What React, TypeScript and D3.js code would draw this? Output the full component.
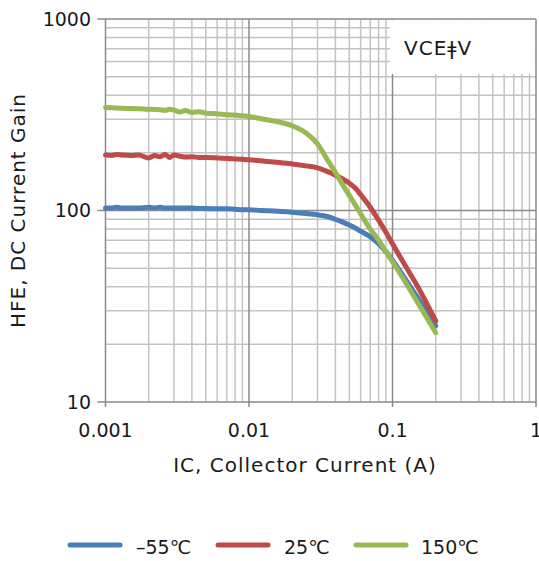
import * as d3 from "d3";

// collector current (A)
const IC = [
  0.001, 0.0011, 0.0012, 0.0013, 0.0015, 0.0017, 0.002, 0.0022, 0.0024, 0.0026,
  0.0028, 0.003, 0.0033, 0.0036, 0.004, 0.0045, 0.005, 0.006, 0.007, 0.008,
  0.009, 0.01, 0.012, 0.015, 0.02, 0.025, 0.03, 0.035, 0.04, 0.045,
  0.05, 0.055, 0.06, 0.07, 0.08, 0.09, 0.1, 0.12, 0.15, 0.2,
];

const HFE_M55 = [
  103, 103, 104, 103, 103, 103, 104, 103, 104, 103,
  103, 103, 103, 103, 103, 102.5, 102.5, 102, 102, 101.5,
  101, 101, 100, 99.5, 98, 96.5, 95, 93, 90, 87,
  84, 81, 78, 73, 67, 61, 55, 45, 35, 25,
];

const HFE_25 = [
  195, 194, 196, 195, 194, 195, 188, 194, 191, 196,
  189, 195, 192, 190, 191, 189, 189, 188, 187, 186,
  185, 184, 182, 179, 175, 171, 167, 160, 153, 146,
  139, 131, 121, 104, 89, 77, 67, 53, 40, 26.5,
];

const HFE_150 = [
  345, 344, 343, 342, 341, 340, 338, 337, 336, 333,
  338, 335, 327, 333, 325, 328, 322, 320, 316, 315,
  312, 310, 302, 293, 277, 254, 223, 185, 158, 136,
  120, 107, 96, 80, 70, 61, 54, 43.5, 33, 23,
];

const SERIES = [
  { name: "–55℃", color: "#4a7ebb", values: HFE_M55 },
  { name: "25℃", color: "#be4b48", values: HFE_25 },
  { name: "150℃", color: "#98b954", values: HFE_150 },
];

const X_TICKS = [0.001, 0.01, 0.1, 1];
const X_TICK_LABELS = ["0.001", "0.01", "0.1", "1"];
const Y_TICKS = [10, 100, 1000];
const Y_TICK_LABELS = ["10", "100", "1000"];

const FONT = "'DejaVu Sans', 'Noto Sans CJK KR', sans-serif";
const INK = "#1a1a1a";

export default function App() {
  const W = 539;
  const H = 561;
  const x = d3.scaleLog().domain([0.001, 1]).range([105.5, 536]);
  const y = d3.scaleLog().domain([10, 1000]).range([402, 19]);

  const minorX: number[] = [];
  [0.001, 0.01, 0.1].forEach((d) => {
    for (let k = 2; k <= 9; k++) minorX.push(d * k);
  });
  const minorY: number[] = [];
  [10, 100].forEach((d) => {
    for (let k = 2; k <= 9; k++) minorY.push(d * k);
  });

  const line = d3
    .line<number>()
    .x((_, i) => x(IC[i]))
    .y((d) => y(d))
    .curve(d3.curveMonotoneX);

  const legendItems = [
    { x0: 70, tx: 136 },
    { x0: 218, tx: 284 },
    { x0: 356, tx: 421 },
  ];

  return (
    <div style={{ position: "absolute", left: 0, top: 0 }}>
      <svg width={W} height={H} style={{ display: "block", background: "#fff" }}>
        {/* minor grid */}
        {minorX.map((v) => (
          <line key={"mx" + v} x1={x(v)} x2={x(v)} y1={y(1000)} y2={y(10)} stroke="#c3c3c3" strokeWidth={1.5} />
        ))}
        {minorY.map((v) => (
          <line key={"my" + v} x1={x(0.001)} x2={x(1)} y1={y(v)} y2={y(v)} stroke="#c3c3c3" strokeWidth={1.5} />
        ))}
        {/* major grid */}
        {X_TICKS.map((v) => (
          <line key={"Mx" + v} x1={x(v)} x2={x(v)} y1={y(1000)} y2={y(10) + 5} stroke="#8a8a8a" strokeWidth={1.5} />
        ))}
        {Y_TICKS.map((v) => (
          <line key={"My" + v} x1={x(0.001) - 8} x2={x(1)} y1={y(v)} y2={y(v)} stroke="#8a8a8a" strokeWidth={1.5} />
        ))}

        {/* condition box */}
        <rect x={390} y={20} width={145} height={54} fill="#fff" />
        <text x={404} y={55} fontFamily={FONT} fontSize={20} letterSpacing={1} fill={INK}>
          VCEǂV
        </text>

        {/* curves */}
        {SERIES.map((s) => (
          <path
            key={s.name}
            d={line(s.values) || ""}
            fill="none"
            stroke={s.color}
            strokeWidth={5}
            strokeLinejoin="round"
            strokeLinecap="round"
          />
        ))}

        {/* tick labels */}
        {Y_TICKS.map((v, i) => (
          <text key={"yl" + v} x={91} y={y(v)} dy="0.36em" textAnchor="end" fontFamily={FONT} fontSize={19} fill={INK}>
            {Y_TICK_LABELS[i]}
          </text>
        ))}
        {X_TICKS.map((v, i) => (
          <text key={"xl" + v} x={x(v)} y={437} textAnchor="middle" fontFamily={FONT} fontSize={19} fill={INK}>
            {X_TICK_LABELS[i]}
          </text>
        ))}

        {/* axis titles */}
        <text x={305} y={472} textAnchor="middle" fontFamily={FONT} fontSize={20} letterSpacing={1} fill={INK}>
          IC, Collector Current (A)
        </text>
        <text
          transform={`translate(25,${(y(1000) + y(10)) / 2}) rotate(-90)`}
          textAnchor="middle"
          fontFamily={FONT}
          fontSize={20}
          letterSpacing={1}
          fill={INK}
        >
          HFE, DC Current Gain
        </text>

        {/* legend */}
        {SERIES.map((s, i) => (
          <g key={"lg" + s.name}>
            <line
              x1={legendItems[i].x0}
              x2={legendItems[i].x0 + 50}
              y1={545}
              y2={545}
              stroke={s.color}
              strokeWidth={5}
              strokeLinecap="round"
            />
            <text x={legendItems[i].tx} y={554} fontFamily={FONT} fontSize={19} fill={INK}>
              {s.name}
            </text>
          </g>
        ))}
      </svg>
    </div>
  );
}
